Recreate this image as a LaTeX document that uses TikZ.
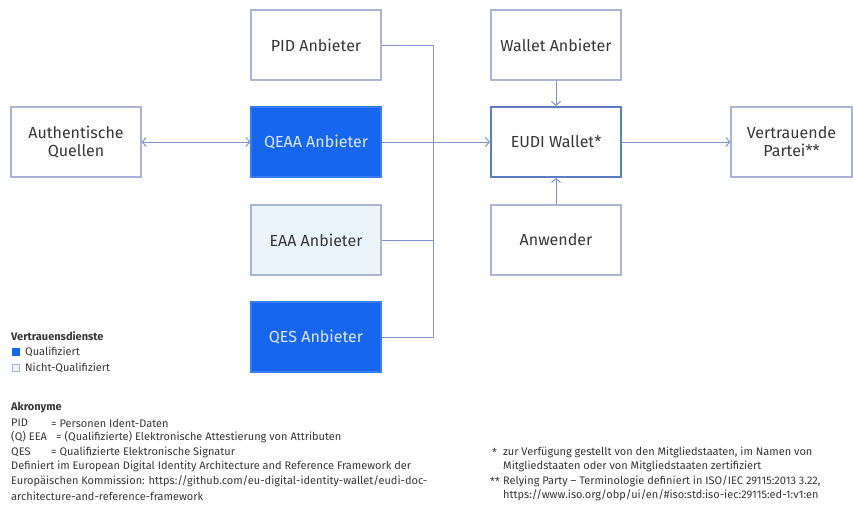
\documentclass[tikz,border=0pt]{standalone}
\usepackage{fontspec}
\setmainfont{Fira Sans}
\usetikzlibrary{arrows.meta}
\definecolor{qblue}{RGB}{22,102,240}
\definecolor{lightfill}{RGB}{235,243,252}
\definecolor{boxline}{RGB}{170,180,214}
\definecolor{conline}{RGB}{125,147,201}
\definecolor{walletline}{RGB}{92,124,196}
\definecolor{txt}{RGB}{55,55,55}
\definecolor{qtxt}{RGB}{220,232,255}
\tikzset{
  box/.style={draw=boxline, line width=1.1pt, fill=white, minimum width=130pt, minimum height=70pt,
    inner sep=0pt, align=center, text=txt, font=\fontsize{16}{18}\selectfont},
  qbox/.style={box, fill=qblue, draw=qblue!85!white, text=qtxt},
  nqbox/.style={box, fill=lightfill},
  wbox/.style={box, draw=walletline, line width=1.8pt},
  con/.style={draw=conline, line width=1pt},
  arr/.style={con, -{Straight Barb[length=4pt,width=9pt,line width=1pt]}},
  darr/.style={con, {Straight Barb[length=4pt,width=9pt,line width=1pt]}-{Straight Barb[length=4pt,width=9pt,line width=1pt]}},
  small/.style={anchor=west, inner sep=0pt, text=txt, font=\fontsize{11}{13}\selectfont},
  smallb/.style={small, font=\fontsize{11}{13}\selectfont\bfseries},
}
\begin{document}
\begin{tikzpicture}[x=1pt,y=-1pt]
\useasboundingbox (0,0) rectangle (853,504);
% boxes
\node[box] (aq) at (76,142) {Authentische\\Quellen};
\node[box] (pid) at (316,45) {PID Anbieter};
\node[qbox] (qeaa) at (316,142) {QEAA Anbieter};
\node[nqbox] (eaa) at (316,240) {EAA Anbieter};
\node[qbox] (qes) at (316,337) {QES Anbieter};
\node[box] (wa) at (556,45) {Wallet Anbieter};
\node[wbox] (eudi) at (556,142) {EUDI Wallet*};
\node[box] (anw) at (556,240) {Anwender};
\node[box, minimum width=121pt] (vp) at (791.5,142) {Vertrauende\\Partei**};
% connectors
\coordinate (bt) at (433,45);
\coordinate (bm) at (433,240);
\coordinate (bb) at (433,337);
\draw[con] (pid.east) -- (bt) -- (bb) -- (qes.east);
\draw[con] (eaa.east) -- (bm);
\draw[darr] (aq.east) -- (qeaa.west);
\draw[arr] (qeaa.east) -- (eudi.west);
\draw[arr] (wa.south) -- (eudi.north);
\draw[arr] (anw.north) -- (eudi.south);
\draw[arr] (eudi.east) -- (vp.west);
% legend
\node[smallb] (lt) at (11,336) {Vertrauensdienste};
\node[draw=qblue, fill=qblue, minimum size=7pt, inner sep=0pt, anchor=west] (lq) at (12,352) {};
\node[small] (lqt) at (25,352) {Qualifiziert};
\node[draw=boxline, fill=lightfill, line width=0.8pt, minimum size=7pt, inner sep=0pt, anchor=west] (lnq) at (12,368) {};
\node[small] (lnqt) at (25,368) {Nicht-Qualifiziert};
% acronyms
\node[smallb] (ak) at (11,408) {Akronyme};
\node[small] (a1) at (11,423) {PID};
\node[small] (a1b) at (51,423) {= Personen Ident-Daten};
\node[small] (a2) at (11,437) {(Q) EEA};
\node[small] (a2b) at (56,437) {= (Qualifizierte) Elektronische Attestierung von Attributen};
\node[small] (a3) at (11,452) {QES};
\node[small] (a3b) at (51,452) {= Qualifizierte Elektronische Signatur};
\node[small] (a4) at (11,466) {Definiert im European Digital Identity Architecture and Reference Framework der};
\node[small] (a5) at (11,481) {Europäischen Kommission: https://github.com/eu-digital-identity-wallet/eudi-doc-};
\node[small] (a6) at (11,496) {architecture-and-reference-framework};
% footnotes
\node[small] (f1s) at (492,452) {*};
\node[small] (f1) at (503,452) {zur Verfügung gestellt von den Mitgliedstaaten, im Namen von};
\node[small] (f1b) at (503,466) {Mitgliedstaaten oder von Mitgliedstaaten zertifiziert};
\node[small] (f2s) at (490,481) {**};
\node[small] (f2) at (503,481) {Relying Party – Terminologie definiert in ISO/IEC 29115:2013 3.22,};
\node[small] (f2b) at (503,495) {https://www.iso.org/obp/ui/en/\#iso:std:iso-iec:29115:ed-1:v1:en};
\end{tikzpicture}
\end{document}
